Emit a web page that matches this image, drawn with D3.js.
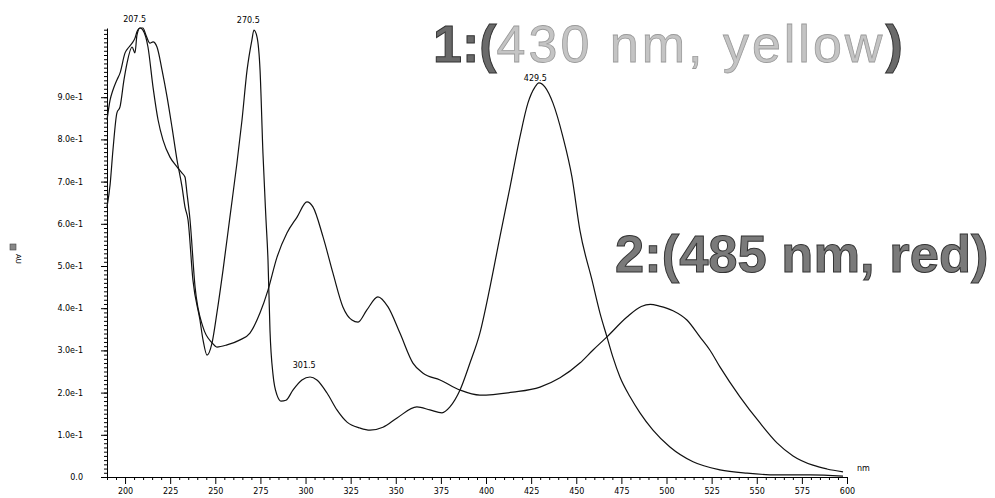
<!DOCTYPE html>
<html>
<head>
<meta charset="utf-8">
<script src="https://cdn.jsdelivr.net/npm/d3@7"></script>
<style>
  body { margin: 0; background: #fff; }
  svg { display: block; }
</style>
</head>
<body>
<svg id="main-svg" width="995" height="498"></svg>
<script>
// spectrum of compound 1 (430 nm, yellow): [wavelength nm, absorbance AU]
const spectrum1 = [
  [190.0, 0.640], [191.7, 0.692], [193.3, 0.775], [195.5, 0.863], [197.2, 0.877],
  [199.4, 0.941], [201.1, 0.981], [203.9, 1.019], [205.5, 1.005], [206.6, 1.047],
  [208.3, 1.064], [209.9, 1.064], [211.6, 1.047], [213.8, 1.028], [215.5, 1.031],
  [217.7, 1.019], [220.5, 0.964], [223.3, 0.900], [226.0, 0.829], [228.8, 0.751],
  [231.6, 0.687], [233.2, 0.640], [234.9, 0.609], [237.6, 0.467], [241.5, 0.372],
  [243.2, 0.325], [245.4, 0.289], [248.2, 0.318], [250.9, 0.389], [254.3, 0.491],
  [258.1, 0.616], [262.0, 0.744], [264.8, 0.846], [267.6, 0.964], [270.3, 1.036],
  [271.4, 1.059], [273.1, 1.043], [274.8, 0.964], [276.4, 0.768], [278.1, 0.609],
  [279.2, 0.514], [280.3, 0.348], [282.0, 0.242], [284.2, 0.194], [286.4, 0.180],
  [289.2, 0.182], [293.0, 0.206], [298.0, 0.230], [302.5, 0.237], [306.3, 0.230],
  [311.9, 0.199], [317.4, 0.159], [323.0, 0.130], [330.2, 0.116], [335.7, 0.111],
  [342.9, 0.118], [350.7, 0.140], [361.7, 0.166], [368.9, 0.159], [375.6, 0.152],
  [380.0, 0.166], [385.6, 0.206], [391.1, 0.270], [396.6, 0.341], [402.2, 0.450],
  [407.7, 0.569], [413.3, 0.687], [418.8, 0.806], [423.2, 0.886], [427.1, 0.924],
  [429.3, 0.934], [432.7, 0.924], [437.1, 0.886], [442.6, 0.806], [447.6, 0.711],
  [452.0, 0.585], [458.7, 0.467], [463.1, 0.389], [467.0, 0.332], [470.3, 0.284],
  [474.2, 0.237], [479.8, 0.190], [485.3, 0.152], [492.5, 0.111], [501.9, 0.071],
  [514.7, 0.036], [529.6, 0.017], [544.6, 0.009], [561.2, 0.005], [579.5, 0.005],
  [597.8, 0.002]
];

// spectrum of compound 2 (485 nm, red)
const spectrum2 = [
  [190.0, 0.846], [191.7, 0.893], [193.3, 0.917], [195.5, 0.941], [197.2, 0.957],
  [200.0, 1.005], [202.2, 1.019], [203.9, 1.028], [205.5, 1.040], [206.6, 1.055],
  [208.3, 1.064], [209.9, 1.059], [212.7, 1.019], [215.5, 0.924], [218.3, 0.846],
  [221.0, 0.799], [224.9, 0.758], [228.8, 0.735], [231.6, 0.720], [233.2, 0.711],
  [234.3, 0.673], [236.0, 0.609], [238.8, 0.450], [243.2, 0.355], [248.2, 0.318],
  [250.9, 0.308], [256.5, 0.313], [263.7, 0.325], [269.2, 0.341], [274.8, 0.389],
  [279.2, 0.443], [284.2, 0.521], [289.7, 0.578], [295.3, 0.616], [300.8, 0.652],
  [304.1, 0.640], [309.7, 0.569], [315.2, 0.483], [320.7, 0.403], [325.7, 0.372],
  [329.1, 0.367], [334.0, 0.396], [340.1, 0.427], [345.7, 0.403], [352.3, 0.341],
  [359.5, 0.270], [365.1, 0.246], [374.5, 0.230], [385.6, 0.206], [396.6, 0.194],
  [414.9, 0.201], [429.9, 0.213], [441.0, 0.235], [452.0, 0.270], [459.3, 0.301],
  [467.0, 0.332], [478.1, 0.379], [486.0, 0.404], [491.0, 0.409], [496.0, 0.405],
  [503.6, 0.394], [511.3, 0.372], [518.5, 0.332], [524.0, 0.301], [529.6, 0.261],
  [540.7, 0.190], [551.8, 0.128], [561.2, 0.081], [570.1, 0.050], [581.1, 0.028],
  [588.9, 0.019], [597.8, 0.012]
];

// peak annotations: label, wavelength, absorbance at the peak
const peakLabels = [
  ["207.5", 207.5, 1.064],
  ["270.5", 270.5, 1.059],
  ["301.5", 301.5, 0.237],
  ["429.5", 429.5, 0.934]
];
// vertical gap of each peak label above its peak (px)
const peakLabelGap = [6, 7, 9, 2];

const xMajorTicks = [200, 225, 250, 275, 300, 325, 350, 375, 400, 425, 450, 475, 500, 525, 550, 575, 600];
const yMajorTicks = [0, 0.1, 0.2, 0.3, 0.4, 0.5, 0.6, 0.7, 0.8, 0.9];
const yTickLabels = ["0.0", "1.0e-1", "2.0e-1", "3.0e-1", "4.0e-1", "5.0e-1", "6.0e-1", "7.0e-1", "8.0e-1", "9.0e-1"];

const svg = d3.select("#main-svg");
const tickFont = "'DejaVu Sans', sans-serif";

// scales
const x = d3.scaleLinear().domain([190, 600]).range([107, 847]);
const y = d3.scaleLinear().domain([0, 1.064]).range([477, 28]);

// minor ticks
const xMinor = d3.range(190, 601, 5).filter(v => v % 25 !== 0);
const yMinor = d3.range(0, 1.065, 0.01).map(v => +v.toFixed(2));

// x axis
const gx = svg.append("g").attr("transform", `translate(0,${y(0)})`);
gx.append("g")
    .call(d3.axisBottom(x).tickValues(xMinor).tickSize(3).tickFormat(""))
    .call(g => g.select(".domain").remove());
gx.append("g")
    .call(d3.axisBottom(x).tickValues(xMajorTicks).tickSize(7).tickPadding(4).tickSizeOuter(0))
    .attr("font-family", tickFont)
    .attr("font-size", 8);

// y axis
const gy = svg.append("g").attr("transform", `translate(${x(190)},0)`);
gy.append("g")
    .call(d3.axisLeft(y).tickValues(yMinor).tickSize(3).tickFormat(""))
    .call(g => g.select(".domain").remove());
gy.append("g")
    .call(d3.axisLeft(y).tickValues(yMajorTicks).tickSize(6).tickPadding(18).tickSizeOuter(0)
        .tickFormat((d, i) => yTickLabels[i]))
    .attr("font-family", tickFont)
    .attr("font-size", 8);

// unit labels
svg.append("text")
    .attr("x", x(600) + 10)
    .attr("y", y(0) - 6)
    .attr("font-family", tickFont)
    .attr("font-size", 8)
    .text("nm");

svg.append("rect")
    .attr("x", 10).attr("y", 244)
    .attr("width", 6).attr("height", 6)
    .attr("fill", "#888").attr("stroke", "#444").attr("stroke-width", 0.6);
svg.append("text")
    .attr("transform", "translate(16,254) rotate(90)")
    .attr("font-family", tickFont)
    .attr("font-size", 7)
    .text("AU");

// spectra
const line = d3.line()
    .x(d => x(d[0]))
    .y(d => y(d[1]))
    .curve(d3.curveMonotoneX);

[spectrum1, spectrum2].forEach(s => {
    svg.append("path")
        .datum(s)
        .attr("fill", "none")
        .attr("stroke", "#111")
        .attr("stroke-width", 1.2)
        .attr("d", line);
});

// peak labels
svg.append("g")
    .selectAll("text")
    .data(peakLabels)
    .join("text")
    .attr("x", d => x(d[1]) - 4)
    .attr("y", (d, i) => y(d[2]) - peakLabelGap[i])
    .attr("text-anchor", "middle")
    .attr("font-family", tickFont)
    .attr("font-size", 8)
    .text(d => d[0]);

// big annotations
const big1 = svg.append("text")
    .attr("x", 433)
    .attr("y", 62)
    .attr("font-family", "'Liberation Sans', Arial, sans-serif")
    .attr("font-size", 52);
big1.append("tspan").attr("font-weight", "bold").attr("fill", "#6a6a6a")
    .attr("stroke", "#333").attr("stroke-width", 1).text("1:(");
big1.append("tspan").attr("fill", "#c4c4c4").attr("stroke", "#9a9a9a")
    .attr("stroke-width", 0.8).attr("letter-spacing", 3).text("430 nm, yellow");
big1.append("tspan").attr("font-weight", "bold").attr("fill", "#6a6a6a")
    .attr("stroke", "#333").attr("stroke-width", 1).text(")");

svg.append("text")
    .attr("x", 615)
    .attr("y", 272)
    .attr("font-family", "'Liberation Sans', Arial, sans-serif")
    .attr("font-size", 52.5)
    .attr("font-weight", "bold")
    .attr("fill", "#7a7a7a")
    .attr("stroke", "#333")
    .attr("stroke-width", 1)
    .text("2:(485 nm, red)");
</script>
</body>
</html>
